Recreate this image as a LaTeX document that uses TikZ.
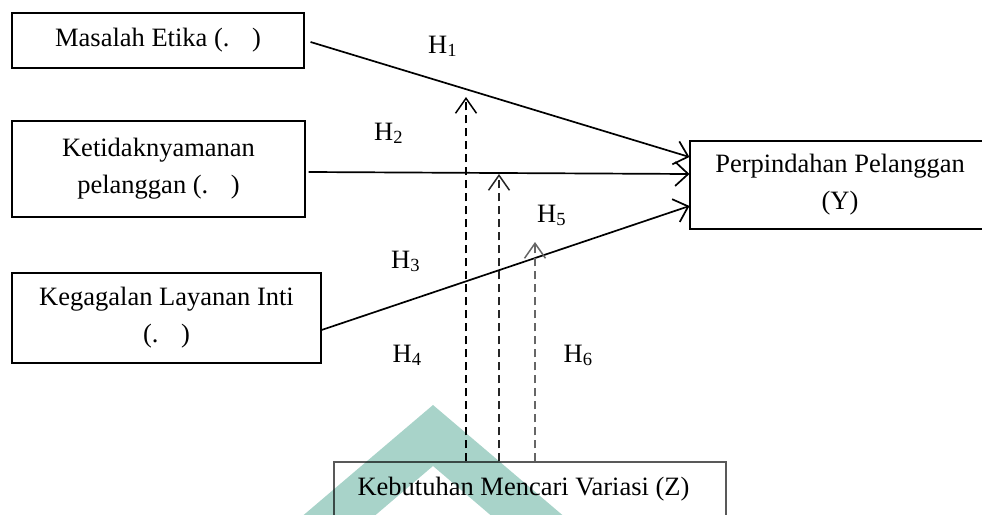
\documentclass[tikz,border=0pt]{standalone}
\usepackage{fontspec}
\setmainfont{Liberation Serif}
\usetikzlibrary{arrows.meta}
\definecolor{wm}{HTML}{A8D3C9}
\begin{document}
\begin{tikzpicture}[x=1pt,y=-1pt,
  box/.style={draw, line width=1.1pt, inner sep=0pt, align=center, font=\fontsize{26.5}{37}\selectfont},
  conn/.style={line width=1.7pt, -{Straight Barb[length=13pt,width=24pt]}},
  dconn/.style={line width=1.5pt, dash pattern=on 8pt off 5pt, -{Straight Barb[length=15pt,width=21pt]}},
  hlab/.style={anchor=base west, inner sep=0pt, font=\fontsize{26.5}{30}\selectfont}]
\useasboundingbox (0,0) rectangle (982,514);
\clip (0,0) rectangle (982,514);
% boxes
\node[box, minimum width=292pt, minimum height=55pt] (b1) at (158,40.5) {Masalah Etika (.\hspace{0.85em})};
\node[box, minimum width=293pt, minimum height=96pt] (b2) at (158.5,169) {Ketidaknyamanan\\pelanggan (.\hspace{0.85em})};
\node[box, minimum width=309pt, minimum height=90pt] (b3) at (166.5,318) {Kegagalan Layanan Inti\\(.\hspace{0.85em})};
\node[box, minimum width=300pt, minimum height=88pt] (y) at (840,185) {Perpindahan Pelanggan\\(Y)};
\node[box, draw=black!65, minimum width=392pt, minimum height=70pt] (z) at (530,497) {};
\node[inner sep=0pt, font=\fontsize{26.5}{37}\selectfont] (zt) at (523.5,489) {Kebutuhan Mencari Variasi (Z)};
% moderator arrow ends
\coordinate (m1) at (466,97);
\coordinate (m2) at (499,174);
\coordinate (m3) at (535,242);
% main arrows
\draw[conn] ([xshift=6pt,yshift=-1.5pt]b1.east) -- ([yshift=28pt]y.west);
\draw[conn] ([xshift=3pt,yshift=-3pt]b2.east) -- ([yshift=11pt]y.west);
\draw[conn] ([yshift=-12pt]b3.east) -- ([yshift=-21pt]y.west);
% dashed moderator arrows
\draw[dconn, black] (z.north -| m1) -- (m1);
\draw[dconn, black!85] (z.north -| m2) -- (m2);
\draw[dconn, black!60] (z.north -| m3) -- (m3);
% labels
\node[hlab] (h1) at (428,53) {H\textsubscript{1}};
\node[hlab] (h2) at (374,140) {H\textsubscript{2}};
\node[hlab] (h3) at (391,268) {H\textsubscript{3}};
\node[hlab] (h4) at (392.5,362) {H\textsubscript{4}};
\node[hlab] (h5) at (537,222) {H\textsubscript{5}};
\node[hlab] (h6) at (563.5,362) {H\textsubscript{6}};
% watermark
\begin{scope}[blend mode=multiply]
\fill[wm, even odd rule] (433,405) -- (286,530) -- (580,530) -- cycle
  (433,466) -- (358,530) -- (508,530) -- cycle;
\end{scope}
\end{tikzpicture}
\end{document}
